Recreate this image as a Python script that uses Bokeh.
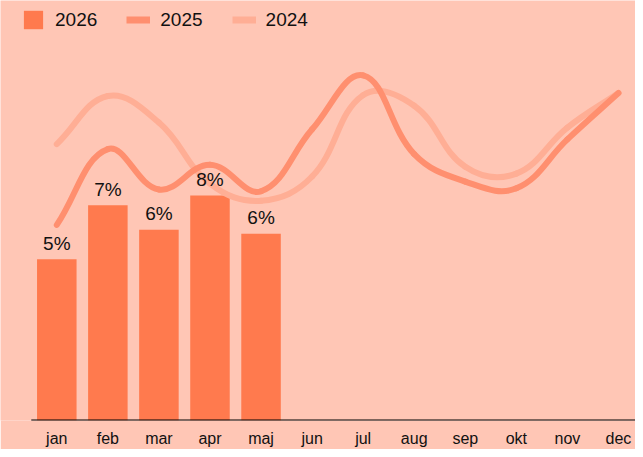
from bokeh.plotting import figure
from bokeh.models import Range1d, FixedTicker, Legend, LegendItem, ColumnDataSource
from bokeh.core.properties import value
from bokeh.embed import file_html
from bokeh.resources import INLINE
import math

months = ["jan", "feb", "mar", "apr", "maj", "jun", "jul", "aug", "sep", "okt", "nov", "dec"]
vals_2026 = [5.47, 7.3, 6.47, 7.63, 6.33]
vals_2025 = [6.63, 9.2, 7.83, 8.67, 7.77, 9.87, 11.7, 9.03, 8.1, 7.87, 9.53, 11.1]
vals_2024 = [9.37, 11.0, 10.1, 8.03, 7.45, 8.27, 11.03, 10.67, 8.6, 8.37, 9.93, 11.1]

BG = "#FFC6B5"
BAR = "#FF7A4E"
C25 = "#FF8F6F"
C24 = "#FFAE95"
FONT = "Liberation Sans"

SX, SY, T = 51.06, 29.5, 0.4   # px per category, px per percent, spline tension
X0 = -56.3 / SX
p = figure(width=635, height=449, output_backend="svg", toolbar_location=None,
           x_range=Range1d(X0, X0 + 635 / SX), y_range=Range1d(0, 420 / SY),
           y_axis_location=None, min_border_left=0, min_border_right=0,
           min_border_top=0, min_border_bottom=29)
p.background_fill_color = BG
p.border_fill_color = BG
p.outline_line_color = None
p.grid.visible = False

ax = p.xaxis[0]
ax.ticker = FixedTicker(ticks=list(range(12)))
ax.major_label_overrides = {i: m for i, m in enumerate(months)}
ax.major_tick_line_color = None
ax.minor_tick_line_color = None
ax.major_tick_out = 0
ax.major_tick_in = 0
ax.axis_line_color = None
ax.major_label_standoff = 9
ax.major_label_text_font = FONT
ax.major_label_text_font_size = "16px"
ax.major_label_text_color = "#111111"

# bars
xb = list(range(len(vals_2026)))
bar_src = ColumnDataSource(dict(x=xb, top=vals_2026,
                                lab=[f"{round(v)}%" for v in vals_2026]))
bars = p.vbar(x="x", top="top", width=0.774, source=bar_src, fill_color=BAR, line_color=None)

# baseline
p.segment(x0=[-0.5], y0=[0], x1=[11.6], y1=[0], line_color="#000000", line_width=2)

def spline(vals):
    n = len(vals)
    pts = [(i, v) for i, v in enumerate(vals)]
    cps = []
    for i in range(n):
        prev = pts[i - 1] if i > 0 else pts[i]
        cur = pts[i]
        nxt = pts[i + 1] if i < n - 1 else pts[i]
        d01 = math.hypot((cur[0] - prev[0]) * SX, (cur[1] - prev[1]) * SY)
        d12 = math.hypot((nxt[0] - cur[0]) * SX, (nxt[1] - cur[1]) * SY)
        tot = d01 + d12
        s01 = d01 / tot if tot else 0
        s12 = d12 / tot if tot else 0
        fa, fb = T * s01, T * s12
        cps.append(((cur[0] - fa * (nxt[0] - prev[0]), cur[1] - fa * (nxt[1] - prev[1])),
                    (cur[0] + fb * (nxt[0] - prev[0]), cur[1] + fb * (nxt[1] - prev[1]))))
    d = dict(x0=[], y0=[], x1=[], y1=[], cx0=[], cy0=[], cx1=[], cy1=[])
    for i in range(n - 1):
        d["x0"].append(pts[i][0]); d["y0"].append(pts[i][1])
        d["x1"].append(pts[i + 1][0]); d["y1"].append(pts[i + 1][1])
        d["cx0"].append(cps[i][1][0]); d["cy0"].append(cps[i][1][1])
        d["cx1"].append(cps[i + 1][0][0]); d["cy1"].append(cps[i + 1][0][1])
    return ColumnDataSource(d)

p.bezier(x0="x0", y0="y0", x1="x1", y1="y1", cx0="cx0", cy0="cy0", cx1="cx1", cy1="cy1",
         source=spline(vals_2024), line_color=C24, line_width=6, line_cap="round")
p.bezier(x0="x0", y0="y0", x1="x1", y1="y1", cx0="cx0", cy0="cy0", cx1="cx1", cy1="cy1",
         source=spline(vals_2025), line_color=C25, line_width=6, line_cap="round")

# bar labels
p.text(x="x", y="top", text="lab", source=bar_src, text_align="center",
       text_baseline="alphabetic", y_offset=-16, text_font=value(FONT),
       text_font_size="19px", text_color="#111111")

# legend (line swatches use off-screen proxy renderers)
l25 = p.line(x=[0, 1], y=[-50, -50], line_color=C25, line_width=7)
l24 = p.line(x=[0, 1], y=[-50, -50], line_color=C24, line_width=7)
legend = Legend(items=[LegendItem(label="2026", renderers=[bars]),
                       LegendItem(label="2025", renderers=[l25]),
                       LegendItem(label="2024", renderers=[l24])],
                orientation="horizontal", location=(21, 389),
                glyph_width=24, glyph_height=23, label_standoff=10, spacing=29,
                padding=0, margin=0, border_line_color=None,
                background_fill_alpha=0, label_text_font=FONT,
                label_text_font_size="19px", label_text_color="#111111",
                label_height=23)
p.add_layout(legend)

open("out.html", "w").write(file_html(p, INLINE))
